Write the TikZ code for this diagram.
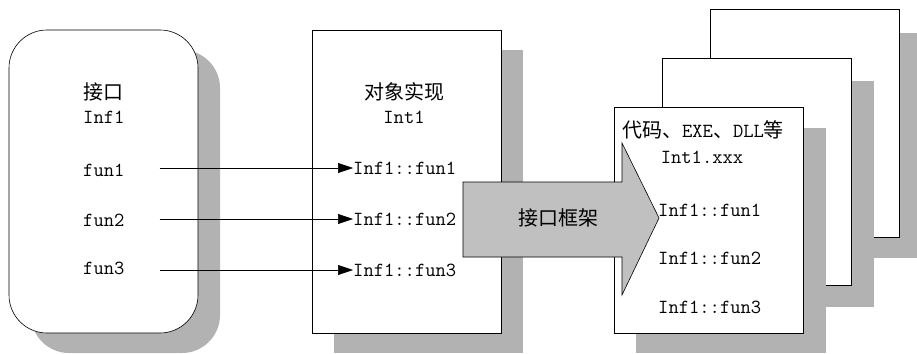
\documentclass[tikz,border=0pt]{standalone}
\usepackage{fontspec}
\newfontfamily\cjk{Noto Sans CJK SC}
\usetikzlibrary{arrows.meta,calc}
\definecolor{shadowgray}{RGB}{178,178,178}
\definecolor{arrowgray}{RGB}{192,192,192}
\tikzset{
  box/.style={draw=black, line width=0.6pt, fill=white},
  shade/.style={fill=shadowgray, draw=none},
  txt/.style={inner sep=0pt, font=\fontsize{20}{24}\selectfont\ttfamily},
  conn/.style={line width=0.6pt, -{Triangle[length=15pt,width=10pt]}},
}
\begin{document}
\begin{tikzpicture}[x=1pt,y=-1pt]
\useasboundingbox (0,0) rectangle (917,353);
% left rounded box
\fill[shade, rounded corners=38pt] (31,50) rectangle (220,353);
\draw[box, rounded corners=38pt] (9,30) rectangle (198,333);
% middle box
\fill[shade] (334,50) rectangle (523,353);
\draw[box] (312,30) rectangle (501,333);
% stacked boxes (back to front)
\fill[shade] (732,33) rectangle (917,258);
\draw[box] (710,9) rectangle (899,237);
\fill[shade] (684,81) rectangle (874,307);
\draw[box] (662,58) rectangle (851,285);
\fill[shade] (636,128) rectangle (826,353);
\draw[box] (614,107) rectangle (803,333);
% big arrow
\draw[line width=0.6pt, fill=arrowgray] (463,182) -- (622,182) -- (622,143) -- (659,218) -- (622,295) -- (622,257) -- (463,257) -- cycle;
\node[txt] (frame) at (558,218) {\cjk 接口框架};
% left texts
\node[txt, anchor=west] (iface) at (83,92) {\cjk 接口};
\node[txt, anchor=west] (inf) at (83,117) {Inf1};
\node[txt, anchor=west] (f1) at (83,170) {fun1};
\node[txt, anchor=west] (f2) at (83,220) {fun2};
\node[txt, anchor=west] (f3) at (83,268) {fun3};
% middle texts
\node[txt] (obj) at (404,92) {\cjk 对象实现};
\node[txt] (int) at (404,117) {Int1};
\node[txt, anchor=west] (g1) at (353,168) {Inf1::fun1};
\node[txt, anchor=west] (g2) at (353,219) {Inf1::fun2};
\node[txt, anchor=west] (g3) at (353,270) {Inf1::fun3};
% front texts
\node[txt] (code) at (703,130) {{\cjk 代码、}EXE{\cjk 、}DLL{\cjk 等}};
\node[txt] (intx) at (702,157) {Int1.xxx};
\node[txt, anchor=west] (h1) at (658,210) {Inf1::fun1};
\node[txt, anchor=west] (h2) at (658,258) {Inf1::fun2};
\node[txt, anchor=west] (h3) at (658,307) {Inf1::fun3};
% connectors
\draw[conn] ([xshift=35pt]f1.east |- g1.west) -- (g1.west);
\draw[conn] ([xshift=35pt]f2.east |- g2.west) -- (g2.west);
\draw[conn] ([xshift=35pt]f3.east |- g3.west) -- (g3.west);
\end{tikzpicture}
\end{document}
